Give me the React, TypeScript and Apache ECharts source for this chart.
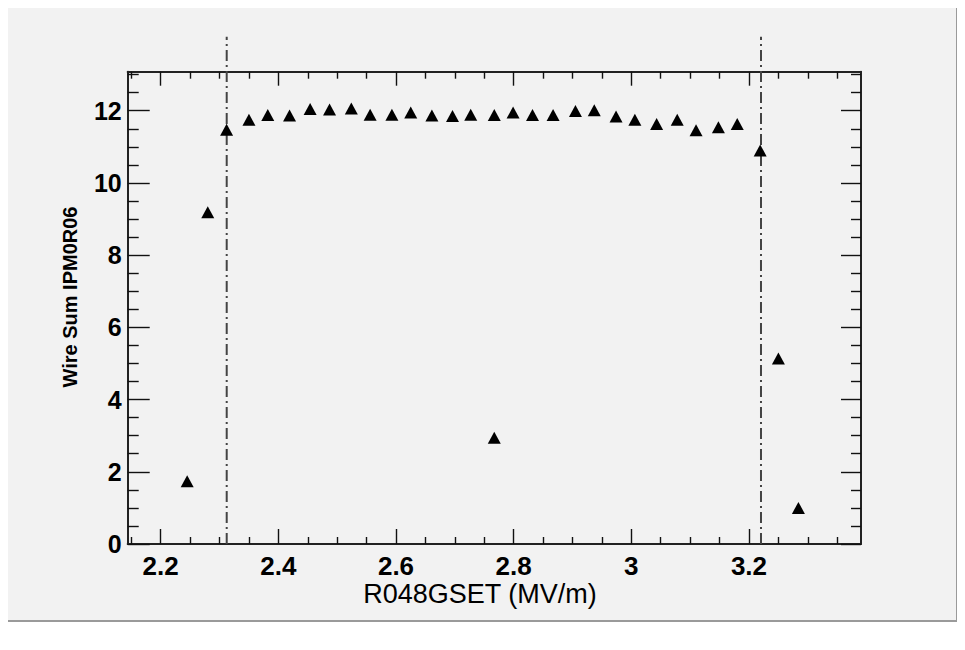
import React, { useEffect, useRef } from "react";
import * as echarts from "echarts";

// R048GSET (MV/m)
const xValues = [
  2.245, 2.28, 2.312, 2.35, 2.382, 2.419, 2.454, 2.487, 2.524, 2.556, 2.593,
  2.625, 2.661, 2.696, 2.727, 2.767, 2.767, 2.799, 2.832, 2.867, 2.905, 2.937,
  2.974, 3.006, 3.043, 3.078, 3.11, 3.148, 3.18, 3.219, 3.25, 3.284,
];
// Wire Sum IPM0R06
const yValues = [
  1.74, 9.19, 11.47, 11.75, 11.88, 11.87, 12.05, 12.03, 12.06, 11.89, 11.89,
  11.95, 11.87, 11.85, 11.89, 11.88, 2.94, 11.95, 11.88, 11.88, 11.99, 12.01,
  11.84, 11.75, 11.63, 11.75, 11.46, 11.54, 11.63, 10.9, 5.14, 1.0,
];
const cutLines = [2.3122, 3.2204];
const cutTop = 14.05;

const xMajor = [2.2, 2.4, 2.6, 2.8, 3.0, 3.2];
const xMinor = [
  2.15, 2.25, 2.3, 2.35, 2.45, 2.5, 2.55, 2.65, 2.7, 2.75, 2.85, 2.9, 2.95,
  3.05, 3.1, 3.15, 3.25, 3.3, 3.35,
];
const yMajor = [0, 2, 4, 6, 8, 10, 12];
const yMinor = [
  0.5, 1, 1.5, 2.5, 3, 3.5, 4.5, 5, 5.5, 6.5, 7, 7.5, 8.5, 9, 9.5, 10.5, 11,
  11.5, 12.5, 13,
];

const X_MIN = 2.1439;
const X_MAX = 3.3904;
const Y_MIN = 0;
const Y_MAX = 13.08;

const FONT = "'Liberation Sans', Arial, Helvetica, sans-serif";
const W = 950;
const H = 614;

function makeAxis(
  kind: "x" | "y",
  position: string,
  ticks: number[],
  length: number,
  showLine: boolean,
  showLabel: boolean
) {
  const isX = kind === "x";
  return {
    type: "value",
    gridIndex: 0,
    position,
    min: isX ? X_MIN : Y_MIN,
    max: isX ? X_MAX : Y_MAX,
    splitLine: { show: false },
    minorTick: { show: false },
    axisLine: {
      show: showLine,
      onZero: false,
      lineStyle: { color: "#222", width: 2 },
    },
    axisTick: {
      show: true,
      inside: true,
      length,
      customValues: ticks,
      lineStyle: { color: "#111", width: 1.4 },
    },
    axisLabel: showLabel
      ? {
          show: true,
          customValues: ticks,
          margin: isX ? 9 : 6,
          fontSize: isX ? 26 : 25,
          fontWeight: "bold",
          fontFamily: FONT,
          color: "#000",
        }
      : { show: false },
  };
}

export default function App() {
  const ref = useRef<HTMLDivElement>(null);

  useEffect(() => {
    if (!ref.current) return;
    const chart = echarts.init(ref.current, null, { renderer: "svg" });
    const points = xValues.map((x, i) => [x, yValues[i]]);

    const option: any = {
      animation: false,
      backgroundColor: "#f2f2f2",
      grid: { left: 119.7, top: 63.7, right: 97, bottom: 78, containLabel: false },
      xAxis: [
        makeAxis("x", "bottom", xMajor, 15, true, true),
        makeAxis("x", "bottom", xMinor, 7, false, false),
        makeAxis("x", "top", xMajor, 14, true, false),
        makeAxis("x", "top", xMinor, 7, false, false),
      ],
      yAxis: [
        makeAxis("y", "left", yMajor, 22, true, true),
        makeAxis("y", "left", yMinor, 11, false, false),
        makeAxis("y", "right", yMajor, 20, true, false),
        makeAxis("y", "right", yMinor, 10, false, false),
      ],
      series: [
        {
          type: "scatter",
          xAxisIndex: 0,
          yAxisIndex: 0,
          data: points,
          symbol: "triangle",
          symbolSize: [13, 12],
          itemStyle: { color: "#000", opacity: 1 },
          z: 5,
        },
        ...cutLines.map((c) => ({
          type: "line",
          xAxisIndex: 0,
          yAxisIndex: 0,
          data: [
            [c, 0],
            [c, cutTop],
          ],
          clip: false,
          symbol: "none",
          silent: true,
          lineStyle: { color: "#444", width: 2, type: [11, 4, 2, 4] },
          z: 3,
        })),
      ],
      graphic: [
        {
          type: "line",
          shape: { x1: W - 1, y1: 0, x2: W - 1, y2: H },
          style: { stroke: "#9a9a9a", lineWidth: 2 },
        },
        {
          type: "line",
          shape: { x1: 0, y1: H - 1, x2: W, y2: H - 1 },
          style: { stroke: "#9a9a9a", lineWidth: 2 },
        },
        {
          type: "text",
          x: 472,
          y: 586,
          style: {
            text: "R048GSET (MV/m)",
            fontSize: 27,
            fontFamily: FONT,
            fill: "#000",
            align: "center",
            verticalAlign: "middle",
          },
        },
        {
          type: "text",
          x: 62,
          y: 289,
          rotation: Math.PI / 2,
          style: {
            text: "Wire Sum IPM0R06",
            fontSize: 20,
            fontWeight: "bold",
            fontFamily: FONT,
            fill: "#000",
            align: "center",
            verticalAlign: "middle",
          },
        },
      ],
    };

    chart.setOption(option);
    return () => chart.dispose();
  }, []);

  return <div ref={ref} style={{ width: W, height: H }} />;
}
